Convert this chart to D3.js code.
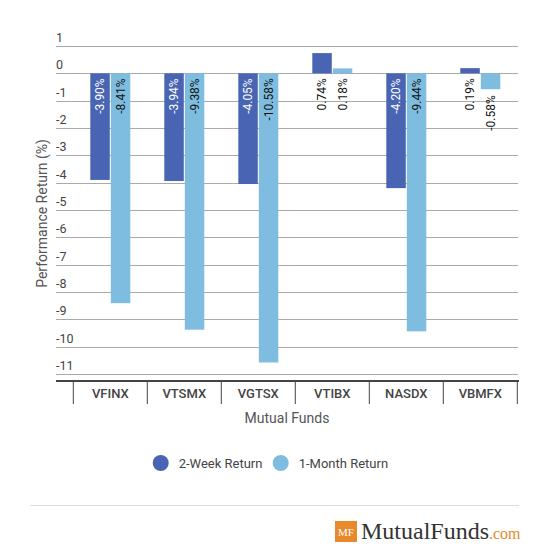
<!DOCTYPE html>
<html>
<head>
<meta charset="utf-8">
<script src="https://cdn.jsdelivr.net/npm/d3@7"></script>
<style>
  body { margin: 0; background: #fff; }
  text { font-family: Roboto, "Noto Sans", sans-serif; }
</style>
</head>
<body>
<div id="chart"></div>
<script>
// Dati
const funds = ["VFINX", "VTSMX", "VGTSX", "VTIBX", "NASDX", "VBMFX"];
const series = ["2-Week Return", "1-Month Return"];
const twoWeek = [-3.90, -3.94, -4.05, 0.74, -4.20, 0.19];
const oneMonth = [-8.41, -9.38, -10.58, 0.18, -9.44, -0.58];
const yTicks = [1, 0, -1, -2, -3, -4, -5, -6, -7, -8, -9, -10, -11];
const colors = ["#4a64b4", "#7fbde0"];

const width = 550, height = 558;

const svg = d3.select("#chart").append("svg")
  .attr("width", width)
  .attr("height", height);

// Scale
const y = d3.scaleLinear().domain([-11.25, 1]).range([380.8, 46]);
const x0 = d3.scaleBand().domain(funds).range([73.3, 517.3]);
const x1 = d3.scaleBand().domain(series).range([-20, 20]).paddingInner(0.05);
const color = d3.scaleOrdinal().domain(series).range(colors);

// Griglia e etichette asse Y
const grid = svg.append("g");
grid.selectAll("line").data(yTicks).join("line")
  .attr("x1", 56).attr("x2", 518)
  .attr("y1", d => Math.round(y(d)) + 0.5).attr("y2", d => Math.round(y(d)) + 0.5)
  .attr("stroke", "#aaa").attr("stroke-width", 1);
grid.selectAll("text").data(yTicks).join("text")
  .attr("x", 56).attr("y", d => y(d) - 4)
  .attr("font-size", "12.5px").attr("fill", "#444")
  .text(d => d);

// Barre
const rows = funds.map((f, i) => ({ fund: f, values: [twoWeek[i], oneMonth[i]] }));
const groups = svg.append("g").selectAll("g").data(rows).join("g")
  .attr("transform", d => `translate(${x0(d.fund) + x0.bandwidth() / 2},0)`);

const cells = groups.selectAll("g").data(d => d.values.map((v, k) => ({ key: series[k], k, v }))).join("g");

cells.append("rect")
  .attr("x", d => x1(d.key))
  .attr("width", x1.bandwidth())
  .attr("y", d => Math.min(y(0), y(d.v)))
  .attr("height", d => Math.abs(y(d.v) - y(0)))
  .attr("fill", d => color(d.key));

// Etichette sulle barre
cells.append("text")
  .attr("transform", d => {
    const len = Math.abs(y(d.v) - y(0));
    const inside = d.v < 0 && len > 45;
    const ty = (d.v < 0 && !inside) ? y(d.v) + 6 : y(0) + 5;
    return `translate(${x1(d.key) + x1.bandwidth() / 2},${ty}) rotate(-90)`;
  })
  .attr("text-anchor", "end")
  .attr("dy", "0.35em")
  .attr("font-size", "12px")
  .attr("fill", d => (d.k === 0 && d.v < 0 && Math.abs(y(d.v) - y(0)) > 45) ? "#fff" : "#111")
  .text(d => d.v.toFixed(2) + "%");

// Asse X
const axisY = 381;
svg.append("line")
  .attr("x1", 56).attr("x2", 519)
  .attr("y1", axisY).attr("y2", axisY)
  .attr("stroke", "#444").attr("stroke-width", 2);
const seps = funds.map(f => x0(f)).concat([x0.range()[1]]);
svg.append("g").selectAll("line").data(seps).join("line")
  .attr("x1", d => d).attr("x2", d => d)
  .attr("y1", axisY).attr("y2", 404)
  .attr("stroke", "#444").attr("stroke-width", 1);
svg.append("g").selectAll("text").data(funds).join("text")
  .attr("x", d => x0(d) + x0.bandwidth() / 2)
  .attr("y", 393)
  .attr("text-anchor", "middle").attr("dy", "0.35em")
  .attr("font-size", "13px").attr("font-weight", 500).attr("fill", "#444")
  .text(d => d);

// Titoli assi
svg.append("text")
  .attr("x", 287).attr("y", 418)
  .attr("text-anchor", "middle").attr("dy", "0.35em")
  .attr("font-size", "14px").attr("fill", "#555")
  .text("Mutual Funds");
svg.append("text")
  .attr("transform", `translate(42,${(46 + 381) / 2}) rotate(-90)`)
  .attr("text-anchor", "middle").attr("dy", "0.35em")
  .attr("font-size", "14px").attr("fill", "#555")
  .text("Performance Return (%)");

// Legenda
const legendX = [160.7, 280.7];
const legend = svg.append("g").selectAll("g").data(series).join("g")
  .attr("transform", (d, i) => `translate(${legendX[i]},463)`);
legend.append("circle").attr("r", 8).attr("fill", d => color(d));
legend.append("text")
  .attr("x", 18).attr("dy", "0.35em")
  .attr("font-size", "13px").attr("fill", "#444")
  .text(d => d);

// Linea separatrice
svg.append("line")
  .attr("x1", 30).attr("x2", 519)
  .attr("y1", 505.5).attr("y2", 505.5)
  .attr("stroke", "#ddd").attr("stroke-width", 1);

// Logo
const logo = svg.append("g");
logo.append("rect")
  .attr("x", 335).attr("y", 521).attr("width", 22).attr("height", 21)
  .attr("fill", "#e8892b");
logo.append("text")
  .attr("x", 346).attr("y", 536)
  .attr("text-anchor", "middle")
  .attr("font-family", "'Liberation Serif', serif")
  .attr("font-size", "11px").attr("fill", "#fff")
  .style("font-family", "'Liberation Serif', serif")
  .text("MF");
const brand = logo.append("text")
  .attr("x", 361).attr("y", 539)
  .style("font-family", "'Liberation Serif', serif");
brand.append("tspan")
  .attr("font-size", "24px").attr("fill", "#333")
  .text("MutualFunds");
brand.append("tspan")
  .attr("font-size", "16px").attr("fill", "#e8892b")
  .text(".com");
</script>
</body>
</html>
